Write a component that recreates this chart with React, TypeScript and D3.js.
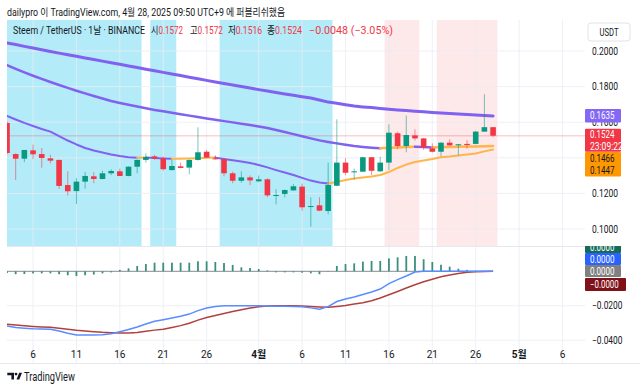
import React from 'react'
import * as d3 from 'd3'

// ---- data (daily candles, Mar 3 .. Apr 28, 2025) ----
const START = new Date(Date.UTC(2025, 2, 3))

const opens = [
  0.1596, 0.1421, 0.1395, 0.1442, 0.1421, 0.1397, 0.1388, 0.1247, 0.1213, 0.1266,
  0.1296, 0.1281, 0.1313, 0.1324, 0.1298, 0.1350, 0.1388, 0.1408, 0.1397, 0.1331,
  0.1352, 0.1345, 0.1388, 0.1434, 0.1397, 0.1393, 0.1313, 0.1271, 0.1290, 0.1268,
  0.1279, 0.1187, 0.1197, 0.1217, 0.1238, 0.1126, 0.1133, 0.1101, 0.1243, 0.1373,
  0.1320, 0.1322, 0.1403, 0.1324, 0.1373, 0.1538, 0.1466, 0.1526, 0.1509, 0.1453,
  0.1434, 0.1485, 0.1470, 0.1478, 0.1478, 0.1547, 0.1572,
]
const highs = [
  0.1605, 0.1425, 0.1444, 0.1474, 0.1455, 0.1416, 0.1390, 0.1324, 0.1285, 0.1320,
  0.1319, 0.1327, 0.1335, 0.1339, 0.1352, 0.1390, 0.1425, 0.1416, 0.1406, 0.1388,
  0.1373, 0.1390, 0.1571, 0.1444, 0.1414, 0.1395, 0.1322, 0.1324, 0.1301, 0.1300,
  0.1285, 0.1224, 0.1223, 0.1253, 0.1255, 0.1178, 0.1178, 0.1373, 0.1616, 0.1397,
  0.1339, 0.1405, 0.1405, 0.1406, 0.1588, 0.1547, 0.1637, 0.1560, 0.1512, 0.1481,
  0.1487, 0.1504, 0.1478, 0.1500, 0.1552, 0.1757, 0.1572,
]
const lows = [
  0.1420, 0.1275, 0.1376, 0.1393, 0.1344, 0.1369, 0.1226, 0.1189, 0.1140, 0.1226,
  0.1257, 0.1279, 0.1303, 0.1296, 0.1296, 0.1313, 0.1373, 0.1388, 0.1328, 0.1329,
  0.1340, 0.1307, 0.1385, 0.1399, 0.1390, 0.1296, 0.1257, 0.1260, 0.1247, 0.1263,
  0.1178, 0.1139, 0.1178, 0.1215, 0.1103, 0.1013, 0.1100, 0.1083, 0.1240, 0.1302,
  0.1277, 0.1320, 0.1303, 0.1320, 0.1331, 0.1448, 0.1431, 0.1496, 0.1444, 0.1430,
  0.1408, 0.1466, 0.1414, 0.1451, 0.1476, 0.1545, 0.1516,
]
const closes = [
  0.1427, 0.1395, 0.1444, 0.1420, 0.1399, 0.1384, 0.1242, 0.1212, 0.1266, 0.1298,
  0.1281, 0.1313, 0.1326, 0.1298, 0.1350, 0.1388, 0.1404, 0.1395, 0.1336, 0.1354,
  0.1343, 0.1388, 0.1431, 0.1401, 0.1392, 0.1313, 0.1271, 0.1290, 0.1273, 0.1279,
  0.1189, 0.1191, 0.1219, 0.1240, 0.1122, 0.1129, 0.1103, 0.1247, 0.1373, 0.1316,
  0.1324, 0.1403, 0.1327, 0.1373, 0.1541, 0.1466, 0.1528, 0.1509, 0.1457, 0.1434,
  0.1485, 0.1470, 0.1476, 0.1472, 0.1547, 0.1572, 0.1524,
]

// moving averages (slow, mid, fast)
const maSlow = [
  0.2045, 0.2036, 0.2026, 0.2017, 0.2007, 0.1997, 0.1988, 0.1979, 0.1970, 0.1961,
  0.1952, 0.1943, 0.1934, 0.1925, 0.1916, 0.1907, 0.1898, 0.1889, 0.1880, 0.1871,
  0.1862, 0.1853, 0.1844, 0.1835, 0.1826, 0.1817, 0.1809, 0.1800, 0.1792, 0.1783,
  0.1775, 0.1767, 0.1759, 0.1751, 0.1743, 0.1736, 0.1725, 0.1713, 0.1706, 0.1698,
  0.1691, 0.1686, 0.1682, 0.1677, 0.1673, 0.1669, 0.1666, 0.1662, 0.1659, 0.1655,
  0.1652, 0.1649, 0.1646, 0.1643, 0.1640, 0.1638, 0.1635,
]
const maMid = [
  0.1921, 0.1900, 0.1880, 0.1861, 0.1843, 0.1826, 0.1809, 0.1793, 0.1777, 0.1762,
  0.1747, 0.1733, 0.1719, 0.1708, 0.1698, 0.1688, 0.1678, 0.1669, 0.1661, 0.1653,
  0.1645, 0.1637, 0.1629, 0.1621, 0.1614, 0.1606, 0.1599, 0.1591, 0.1584, 0.1576,
  0.1567, 0.1556, 0.1545, 0.1533, 0.1521, 0.1509, 0.1498, 0.1489, 0.1481, 0.1473,
  0.1466, 0.1461, 0.1457, 0.1454, 0.1456, 0.1458, 0.1460, 0.1462, 0.1460, 0.1458,
  0.1460, 0.1461, 0.1462, 0.1463, 0.1464, 0.1465, 0.1466,
]
const maFast = [
  0.1635, 0.1615, 0.1596, 0.1579, 0.1562, 0.1547, 0.1522, 0.1497, 0.1475, 0.1455,
  0.1441, 0.1430, 0.1419, 0.1410, 0.1403, 0.1400, 0.1402, 0.1399, 0.1396, 0.1394,
  0.1395, 0.1396, 0.1398, 0.1400, 0.1401, 0.1393, 0.1386, 0.1379, 0.1371, 0.1360,
  0.1346, 0.1331, 0.1317, 0.1303, 0.1287, 0.1272, 0.1261, 0.1256, 0.1264, 0.1275,
  0.1284, 0.1289, 0.1295, 0.1303, 0.1320, 0.1343, 0.1362, 0.1376, 0.1385, 0.1393,
  0.1403, 0.1407, 0.1413, 0.1419, 0.1424, 0.1436, 0.1447,
]

// MACD pane
const macdLine = [
  -0.0317, -0.0326, -0.0330, -0.0333, -0.0334, -0.0336, -0.0346, -0.0359, -0.0369, -0.0369,
  -0.0369, -0.0368, -0.0362, -0.0350, -0.0337, -0.0323, -0.0306, -0.0290, -0.0281, -0.0271,
  -0.0261, -0.0248, -0.0228, -0.0213, -0.0204, -0.0200, -0.0199, -0.0199, -0.0199, -0.0199,
  -0.0201, -0.0202, -0.0203, -0.0204, -0.0205, -0.0212, -0.0220, -0.0205, -0.0175, -0.0161,
  -0.0149, -0.0134, -0.0120, -0.0103, -0.0071, -0.0048, -0.0027, -0.0004, 0.0, 0.0,
  0.0, 0.0, 0.0, 0.0, 0.0, 0.0, 0.0,
]
const signalLine = [
  -0.0307, -0.0312, -0.0316, -0.0320, -0.0323, -0.0325, -0.0330, -0.0336, -0.0342, -0.0346,
  -0.0350, -0.0354, -0.0356, -0.0357, -0.0357, -0.0355, -0.0347, -0.0341, -0.0336, -0.0326,
  -0.0315, -0.0301, -0.0283, -0.0268, -0.0256, -0.0245, -0.0233, -0.0223, -0.0213, -0.0206,
  -0.0201, -0.0199, -0.0199, -0.0199, -0.0201, -0.0204, -0.0207, -0.0209, -0.0204, -0.0198,
  -0.0190, -0.0182, -0.0171, -0.0155, -0.0136, -0.0117, -0.0097, -0.0078, -0.0061, -0.0046,
  -0.0032, -0.0021, -0.0013, -0.0006, -0.0003, -0.0001, 0.0,
]
const histogram = [
  -0.0010, -0.0017, -0.0016, -0.0012, -0.0012, -0.0012, -0.0017, -0.0023, -0.0027, -0.0023,
  -0.0019, -0.0012, -0.0006, 0.0008, 0.0017, 0.0031, 0.0042, 0.0050, 0.0050, 0.0050,
  0.0050, 0.0050, 0.0058, 0.0058, 0.0054, 0.0048, 0.0037, 0.0023, 0.0019, 0.0013,
  0.0005, -0.0006, -0.0006, -0.0006, -0.0008, -0.0012, -0.0017, 0.0002, 0.0031, 0.0042,
  0.0046, 0.0056, 0.0060, 0.0060, 0.0075, 0.0081, 0.0089, 0.0089, 0.0070, 0.0054,
  0.0038, 0.0027, 0.0015, 0.0008, 0.0004, 0.0001, 0.0,
]

// highlighted sessions, as candle index ranges
const cyanBands: [number, number][] = [[0, 15], [17, 19], [25, 37]]
const pinkBands: [number, number][] = [[44, 47], [50, 56]]

const priceTicks = [0.1, 0.12, 0.14, 0.16, 0.18, 0.2]
const macdTicks = [-0.04, -0.02]
const dateTicks: [Date, string, boolean][] = [
  [new Date(Date.UTC(2025, 2, 6)), '6', false],
  [new Date(Date.UTC(2025, 2, 11)), '11', false],
  [new Date(Date.UTC(2025, 2, 16)), '16', false],
  [new Date(Date.UTC(2025, 2, 21)), '21', false],
  [new Date(Date.UTC(2025, 2, 26)), '26', false],
  [new Date(Date.UTC(2025, 3, 1)), '4월', true],
  [new Date(Date.UTC(2025, 3, 6)), '6', false],
  [new Date(Date.UTC(2025, 3, 11)), '11', false],
  [new Date(Date.UTC(2025, 3, 16)), '16', false],
  [new Date(Date.UTC(2025, 3, 21)), '21', false],
  [new Date(Date.UTC(2025, 3, 26)), '26', false],
  [new Date(Date.UTC(2025, 4, 1)), '5월', true],
  [new Date(Date.UTC(2025, 4, 6)), '6', false],
]

const days = closes.map((_, i) => d3.utcDay.offset(START, i))

const W = 640
const H = 389
const LEFT = 7
const PLOT_R = 585
const MAIN_TOP = 20
const MAIN_BOT = 246
const MACD_BOT = 363
const STEP = 8.68

const UP = '#089981'
const DOWN = '#f23645'
const PURPLE = '#8061f0'
const ORANGE = '#ffb54a'
const FONT = "Roboto, 'Noto Sans CJK KR', sans-serif"
const TXT = '#131722'

const x = d3.scaleUtc()
  .domain([START, new Date(Date.UTC(2025, 4, 6))])
  .range([LEFT, LEFT + 64 * STEP])
const y = d3.scaleLinear().domain([0.1, 0.2]).range([229, 51])
const ym = d3.scaleLinear().domain([-0.04, 0]).range([340.3, 271.3])

// split a series into runs coloured by direction (rising = orange)
const colorRuns = (values: number[], always?: string) => {
  const runs: { color: string; pts: [Date, number][] }[] = []
  for (let i = 1; i < values.length; i++) {
    const color = always || (values[i] > values[i - 1] ? ORANGE : PURPLE)
    const last = runs[runs.length - 1]
    if (last && last.color === color) last.pts.push([days[i], values[i]])
    else runs.push({ color, pts: [[days[i - 1], values[i - 1]], [days[i], values[i]]] })
  }
  return runs
}

const fmt = (v: number) => v.toFixed(4).replace('-', '\u2212')

const App = () => {
  const priceLine = d3.line<[Date, number]>().x(d => x(d[0])).y(d => y(d[1]))
  const macdPath = d3.line<number>().x((_, i) => x(days[i])).y(d => ym(d))
  const n = closes.length
  const last = closes[n - 1]

  const maSeries: [number[], number, string | undefined][] = [
    [maSlow, 3, PURPLE],
    [maMid, 2.5, undefined],
    [maFast, 2, undefined],
  ]

  const bandRect = (b: [number, number], fill: string, k: string) => {
    const x0 = Math.max(LEFT, x(days[b[0]]) - STEP / 2)
    const x1 = x(days[b[1]]) + STEP / 2
    return <rect key={k} x={x0} y={MAIN_TOP} width={x1 - x0} height={MAIN_BOT - MAIN_TOP} fill={fill} />
  }

  const axisLabel = (yy: number, text: string, k: string) => (
    <text key={k} x={592} y={yy} dy="0.35em" fontSize={10} fill={TXT}
      textLength={text.length * 4.35} lengthAdjust="spacingAndGlyphs">{text}</text>
  )

  const tag = (y0: number, h: number, fill: string, lines: string[], color: string, w = 36) => (
    <g key={lines.join() + fill}>
      <rect x={PLOT_R} y={y0} width={w} height={h} fill={fill} rx={1} />
      {lines.map((t, i) => (
        <text key={t + i} x={PLOT_R + 5} y={y0 + (h / lines.length) * (i + 0.5)} dy="0.36em"
          fontSize={10} fill={color} textLength={t.length * 4.1} lengthAdjust="spacingAndGlyphs">{t}</text>
      ))}
    </g>
  )

  const ohlc: [string, number, number, number][] = [
    ['시', opens[n - 1], 151, 183],
    ['고', highs[n - 1], 190, 223],
    ['저', lows[n - 1], 228, 262],
    ['종', last, 267, 302],
  ]

  return (
    <svg width={W} height={H} style={{ position: 'absolute', left: 0, top: 0, background: '#fff' }}
      fontFamily={FONT}>
      <defs>
        <clipPath id="mainClip"><rect x={LEFT} y={MAIN_TOP} width={PLOT_R - LEFT} height={MAIN_BOT - MAIN_TOP} /></clipPath>
        <clipPath id="macdClip"><rect x={LEFT} y={MAIN_BOT} width={PLOT_R - LEFT} height={MACD_BOT - MAIN_BOT} /></clipPath>
        <clipPath id="axisMacdClip"><rect x={PLOT_R} y={MAIN_BOT} width={60} height={60} /></clipPath>
      </defs>

      {/* session highlights */}
      {cyanBands.map((b, i) => bandRect(b, '#b3ebf9', 'c' + i))}
      {pinkBands.map((b, i) => bandRect(b, '#fde8ea', 'p' + i))}

      {/* grid */}
      {dateTicks.map(([d], i) => (
        <line key={'vg' + i} x1={x(d)} x2={x(d)} y1={MAIN_TOP} y2={MACD_BOT} stroke="#e9ecf2" strokeOpacity={0.8} />
      ))}
      {priceTicks.map((p, i) => (
        <line key={'hg' + i} x1={LEFT} x2={PLOT_R} y1={y(p)} y2={y(p)} stroke="#e9ecf2" strokeOpacity={0.8} />
      ))}
      {macdTicks.map((p, i) => (
        <line key={'mg' + i} x1={LEFT} x2={PLOT_R} y1={ym(p)} y2={ym(p)} stroke="#eef0f4" />
      ))}
      <line x1={LEFT} x2={PLOT_R} y1={MAIN_BOT + 0.5} y2={MAIN_BOT + 0.5} stroke="#e6e8ee" />
      <line x1={0} x2={W} y1={MACD_BOT + 0.5} y2={MACD_BOT + 0.5} stroke="#e6e8ee" />

      {/* current price line */}
      <line x1={LEFT} x2={PLOT_R} y1={y(last)} y2={y(last)} stroke={DOWN} strokeOpacity={0.22} strokeWidth={1.5} />

      <g clipPath="url(#mainClip)">
        {maSeries.map(([vals, w, col], si) =>
          colorRuns(vals, col).map((r, ri) => (
            <path key={`ma${si}-${ri}`} d={priceLine(r.pts) || ''} fill="none" stroke={r.color}
              strokeWidth={w} strokeLinejoin="round" strokeLinecap="round" />
          ))
        )}
        {closes.map((c, i) => {
          const o = opens[i]
          const col = c >= o ? UP : DOWN
          const cx = x(days[i])
          const top = y(Math.max(o, c))
          const h = Math.max(1, Math.abs(y(o) - y(c)))
          return (
            <g key={'k' + i}>
              <line x1={cx} x2={cx} y1={y(highs[i])} y2={y(lows[i])} stroke={col} strokeOpacity={0.55} />
              <rect x={cx - 2.8} y={top} width={5.6} height={h} fill={col} />
            </g>
          )
        })}
      </g>

      {/* MACD pane */}
      <g clipPath="url(#macdClip)">
        <line x1={x(days[0])} x2={x(days[n - 1])} y1={ym(0)} y2={ym(0)} stroke="#878a94" />
        {histogram.map((v, i) => (
          <rect key={'h' + i} x={x(days[i]) - 0.9} width={1.8}
            y={Math.min(ym(v), ym(0))} height={Math.abs(ym(v) - ym(0))} fill="#3b8f7c" />
        ))}
        <path d={macdPath(signalLine) || ''} fill="none" stroke="#b0413e" strokeWidth={1.5} />
        <path d={macdPath(macdLine) || ''} fill="none" stroke="#5b8cff" strokeWidth={1.5} />
      </g>

      {/* price axis */}
      <rect x={588} y={23} width={42} height={18} rx={3} fill="#fff" stroke="#e0e3eb" />
      <text x={609} y={32} dy="0.35em" textAnchor="middle" fontSize={10} fill={TXT}
        textLength={19} lengthAdjust="spacingAndGlyphs">USDT</text>
      {priceTicks.map((p, i) => axisLabel(y(p), fmt(p), 'pl' + i))}
      {macdTicks.map((p, i) => axisLabel(ym(p), fmt(p), 'ml' + i))}

      {tag(y(maSlow[n - 1]) - 7, 13.5, '#8468f5', [fmt(maSlow[n - 1])], '#fff')}
      {tag(y(last) - 7, 23, '#f23645', [fmt(last), '23:09:22'], '#fff')}
      {tag(152, 24.5, '#ff9800', [fmt(maMid[n - 1]), fmt(maFast[n - 1])], TXT)}

      <g clipPath="url(#axisMacdClip)">
        {tag(241, 12, '#156b57', [fmt(histogram[n - 1])], '#fff')}
      </g>
      {tag(253, 12, '#2962ff', [fmt(macdLine[n - 1])], '#fff')}
      {tag(265, 12, '#808080', [fmt(0)], '#fff')}
      {tag(278, 13, '#7f1219', ['\u22120.0000'], '#fff', 41)}

      {/* time axis */}
      {dateTicks.map(([d, label, bold], i) => (
        <text key={'xl' + i} x={x(d)} y={354} dy="0.35em" textAnchor="middle" fontSize={10}
          fontWeight={bold ? 700 : 400} fill={TXT}>{label}</text>
      ))}

      {/* header */}
      <text x={7} y={12} dy="0.35em" fontSize={10.5} fill={TXT} textLength={278} lengthAdjust="spacingAndGlyphs">
        dailypro 이 TradingView.com, 4월 28, 2025 09:50 UTC+9 에 퍼블리쉬했음
      </text>
      <g fontSize={10.5}>
        <text x={13} y={30.5} dy="0.35em" fill={TXT} textLength={132} lengthAdjust="spacingAndGlyphs">
          Steem / TetherUS · 1날 · BINANCE
        </text>
        {ohlc.map(([k, v, x0, x1]) => (
          <text key={k} x={x0} y={30.5} dy="0.35em" fill={TXT} textLength={x1 - x0} lengthAdjust="spacingAndGlyphs">
            {k}<tspan fill={DOWN}>{v.toFixed(4)}</tspan>
          </text>
        ))}
        <text x={309} y={30.5} dy="0.35em" fill={DOWN} textLength={84} lengthAdjust="spacingAndGlyphs">
          −0.0048 (−3.05%)
        </text>
      </g>

      {/* logo */}
      <g fill={TXT}>
        <path d="M7.3 372.8 H14 V379.5 H11.4 V375.3 H7.3 Z" />
        <circle cx={16} cy={374.1} r={1.4} />
        <path d="M19.2 372.8 H22 L19.3 379.5 H16.5 Z" />
        <text x={24} y={376.3} dy="0.35em" fontSize={12} textLength={51} lengthAdjust="spacingAndGlyphs">TradingView</text>
      </g>
    </svg>
  )
}

export default App
